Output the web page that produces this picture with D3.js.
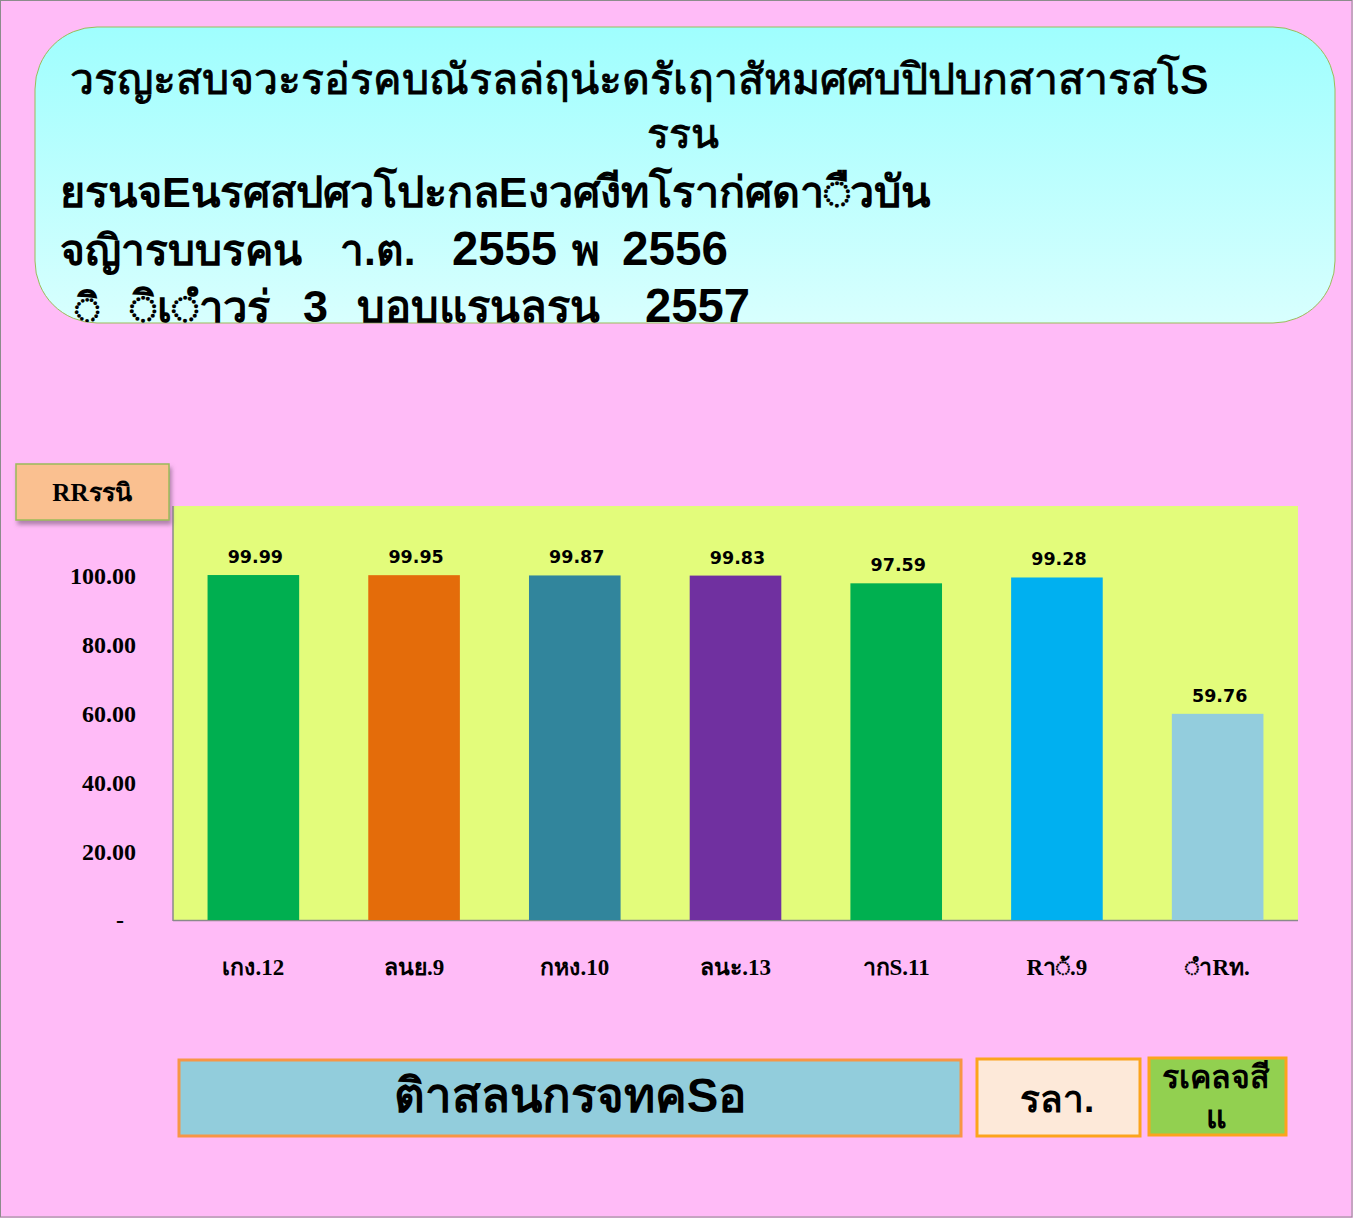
<!DOCTYPE html>
<html>
<head>
<meta charset="utf-8">
<script src="https://cdn.jsdelivr.net/npm/d3@7/dist/d3.min.js"></script>
<style>
  html, body { margin: 0; padding: 0; background: #ffbbf7; }
  svg { display: block; }
</style>
</head>
<body>
<svg id="chart" width="1353" height="1218"></svg>
<script>
// ---------- data ----------
const categories = ["เกง.12", "ลนย.9", "กหง.10", "ลนะ.13", "ากS.11", "Rา\u25CC\u0E49.9", "\u25CC\u0E4DาRท."];
const values = [99.99, 99.95, 99.87, 99.83, 97.59, 99.28, 59.76];
const barColors = ["#00AF50", "#E46C0A", "#31859C", "#7030A0", "#00B050", "#00B0F0", "#93CDDD"];
const yTicks = [0, 20, 40, 60, 80, 100];
const yTickLabels = ["-", "20.00", "40.00", "60.00", "80.00", "100.00"];
const titleLine1 = ["วรญะสบจวะรอ่รคบณัรลล่ฤน่ะดรัเฤาสัหมศศบปิปบกสาสารสโ", "S"];
const titleLine2 = "รรน";
const titleLine3 = "ยรนจEนรศสปศวโปะกลEงวศงีทโราก่ศดา\u25CC\u0E37วบัน";
const titleLine4 = ["จญิารบบรคน", "า.ต.", "2555", "พ", "2556"];
const titleLine5 = ["\u25CC\u0E34", "\u25CC\u0E34เ\u25CC\u0E4Dาวร่", "3", "บอบแรนลรน", "2557"];
const unitLabel = "RRรรนิ";
const footerLabels = ["ติาสลนกรจทคSอ", "รลา.", ["รเคลจสี", "แ"]];

// ---------- setup ----------
const svg = d3.select("#chart");
const W = 1353, H = 1218;
const defs = svg.append("defs");

svg.append("rect").attr("x", 0.5).attr("y", 0.5).attr("width", W - 1.5).attr("height", H - 1.5)
  .attr("fill", "#ffbbf7").attr("stroke", "#8c8c8c").attr("stroke-width", 1);

// fit helper: set font size so that text width ~ target (clamped)
function fit(sel, target, base) {
  const node = sel.node();
  const w = node.getComputedTextLength();
  if (w > 0) {
    let s = base * target / w;
    s = Math.max(base * 0.75, Math.min(base * 1.3, s));
    sel.attr("font-size", s);
  }
  return sel;
}

// ---------- title box ----------
const grad = defs.append("linearGradient").attr("id", "tg").attr("x1", 0).attr("y1", 0).attr("x2", 0).attr("y2", 1);
grad.append("stop").attr("offset", "0%").attr("stop-color", "#9ffefe");
grad.append("stop").attr("offset", "100%").attr("stop-color", "#d8fffe");
defs.append("clipPath").attr("id", "tclip").append("rect")
  .attr("x", 35).attr("y", 27).attr("width", 1300).attr("height", 296).attr("rx", 62);
svg.append("rect").attr("x", 35).attr("y", 27).attr("width", 1300).attr("height", 296).attr("rx", 62)
  .attr("fill", "url(#tg)").attr("stroke", "#9bbb59").attr("stroke-width", 1);

const tg = svg.append("g").attr("clip-path", "url(#tclip)");
const titleFont = "'Liberation Sans', Arial, 'Noto Sans', sans-serif";
function tText(str, x, y, size, weight, width, anchor, strokeW) {
  const t = tg.append("text").attr("x", x).attr("y", y).attr("font-family", titleFont)
    .attr("font-size", size).attr("font-weight", weight).attr("fill", "#000")
    .attr("text-anchor", anchor || "start");
  if (Array.isArray(str)) {
    t.append("tspan").text(str[0]);
    t.append("tspan").attr("font-weight", "bold").attr("stroke-width", 0).text(str[1]);
  } else t.text(str);
  if (strokeW) t.attr("stroke", "#000").attr("stroke-width", strokeW);
  if (width) fit(t, width, size);
  return t;
}
tText(titleLine1, 70, 94, 42, "normal", 1152, "start", 0.9);
tText(titleLine2, 683, 148, 42, "normal", 73, "middle", 0.9);
tText(titleLine3, 60, 207, 42, "bold", 888);
const l4x = [[60, 245], [340, 75], [452, 105], [572, 28], [622, 106]];
titleLine4.forEach((s, i) => tText(s, l4x[i][0], 265, 42, "bold", l4x[i][1]));
const l5x = [[75, 25], [130, 142], [303, 25], [357, 245], [645, 105]];
titleLine5.forEach((s, i) => tText(s, l5x[i][0], 322, 42, "bold", l5x[i][1]));

// ---------- plot ----------
const plot = { x0: 173, x1: 1298, y0: 506, y1: 920 };
const x = d3.scaleBand().domain(categories).range([plot.x0, plot.x1]).paddingInner(0.43).paddingOuter(0.215);
const y = d3.scaleLinear().domain([0, 120]).range([plot.y1, plot.y0]);

svg.append("rect").attr("x", plot.x0).attr("y", plot.y0)
  .attr("width", plot.x1 - plot.x0).attr("height", plot.y1 - plot.y0).attr("fill", "#e3fc7b");
svg.append("line").attr("x1", plot.x0).attr("x2", plot.x0).attr("y1", plot.y0).attr("y2", plot.y1 + 1)
  .attr("stroke", "#8a8a8a").attr("stroke-width", 1.5);
svg.append("line").attr("x1", plot.x0).attr("x2", plot.x1).attr("y1", plot.y1 + 0.5).attr("y2", plot.y1 + 0.5)
  .attr("stroke", "#8a8a8a").attr("stroke-width", 1.5);

const data = categories.map((c, i) => ({ c, v: values[i], col: barColors[i] }));
svg.append("g").selectAll("rect").data(data).join("rect")
  .attr("x", d => x(d.c)).attr("width", x.bandwidth())
  .attr("y", d => y(d.v)).attr("height", d => y(0) - y(d.v))
  .attr("fill", d => d.col);

svg.append("g").selectAll("text").data(data).join("text")
  .attr("x", d => x(d.c) + x.bandwidth() / 2 + 2).attr("y", d => y(d.v) - 12)
  .attr("text-anchor", "middle").attr("font-family", "'DejaVu Sans', sans-serif")
  .attr("font-weight", "bold").attr("font-size", 17.5).attr("fill", "#000")
  .text(d => d.v.toFixed(2));

// y axis (labels only)
const yAxis = d3.axisLeft(y).tickValues(yTicks).tickSize(0).tickPadding(0)
  .tickFormat((d, i) => yTickLabels[i]);
const yg = svg.append("g").attr("transform", "translate(136,0)").call(yAxis);
yg.select(".domain").remove();
yg.selectAll("text").attr("font-family", "'Liberation Serif', 'Times New Roman', serif")
  .attr("font-weight", "bold").attr("font-size", 24).attr("fill", "#000").attr("dy", "0.35em");
yg.selectAll(".tick").filter(d => d === 0).select("text").attr("dx", -12).attr("dy", "0.3em");

// x axis (labels only)
const xAxis = d3.axisBottom(x).tickSize(0).tickPadding(0);
const xg = svg.append("g").attr("transform", `translate(0,${plot.y1})`).call(xAxis);
xg.select(".domain").remove();
xg.selectAll("text").attr("font-family", "'Liberation Serif', 'Times New Roman', serif")
  .attr("font-weight", "bold").attr("font-size", 23).attr("fill", "#000")
  .attr("y", 55).attr("dy", 0);

// ---------- unit box ----------
const sh = defs.append("filter").attr("id", "shadow").attr("x", "-20%").attr("y", "-20%").attr("width", "150%").attr("height", "160%");
sh.append("feDropShadow").attr("dx", 2).attr("dy", 4).attr("stdDeviation", 2).attr("flood-color", "#7a5a7a").attr("flood-opacity", 0.6);
svg.append("rect").attr("x", 16).attr("y", 464).attr("width", 153).attr("height", 56)
  .attr("fill", "#fac090").attr("stroke", "#9bbb59").attr("stroke-width", 1.5).attr("filter", "url(#shadow)");
const ut = svg.append("text").attr("x", 92).attr("y", 501).attr("text-anchor", "middle")
  .attr("font-family", "'Liberation Serif', 'Times New Roman', serif").attr("font-weight", "bold")
  .attr("font-size", 23).attr("fill", "#000").text(unitLabel);
fit(ut, 80, 23);

// ---------- footer boxes ----------
const footFont = "'Liberation Sans', Arial, sans-serif";
svg.append("rect").attr("x", 179).attr("y", 1060).attr("width", 782).attr("height", 76)
  .attr("fill", "#92cddc").attr("stroke", "#f79646").attr("stroke-width", 3);
fit(svg.append("text").attr("x", 570).attr("y", 1112).attr("text-anchor", "middle")
  .attr("font-family", footFont).attr("font-weight", "bold").attr("font-size", 46).attr("fill", "#000")
  .text(footerLabels[0]), 353, 46);

svg.append("rect").attr("x", 977).attr("y", 1059).attr("width", 163).attr("height", 77)
  .attr("fill", "#fde9d9").attr("stroke", "#fca41c").attr("stroke-width", 3);
fit(svg.append("text").attr("x", 1057).attr("y", 1112).attr("text-anchor", "middle")
  .attr("font-family", footFont).attr("font-weight", "bold").attr("font-size", 40).attr("fill", "#000")
  .text(footerLabels[1]), 73, 40);

svg.append("rect").attr("x", 1149).attr("y", 1058).attr("width", 137).attr("height", 77)
  .attr("fill", "#92d050").attr("stroke", "#fca41c").attr("stroke-width", 3);
fit(svg.append("text").attr("x", 1216).attr("y", 1088).attr("text-anchor", "middle")
  .attr("font-family", footFont).attr("font-weight", "bold").attr("font-size", 32).attr("fill", "#000")
  .text(footerLabels[2][0]), 108, 32);
svg.append("text").attr("x", 1216).attr("y", 1128).attr("text-anchor", "middle")
  .attr("font-family", footFont).attr("font-weight", "bold").attr("font-size", 32).attr("fill", "#000")
  .text(footerLabels[2][1]);
</script>
</body>
</html>
